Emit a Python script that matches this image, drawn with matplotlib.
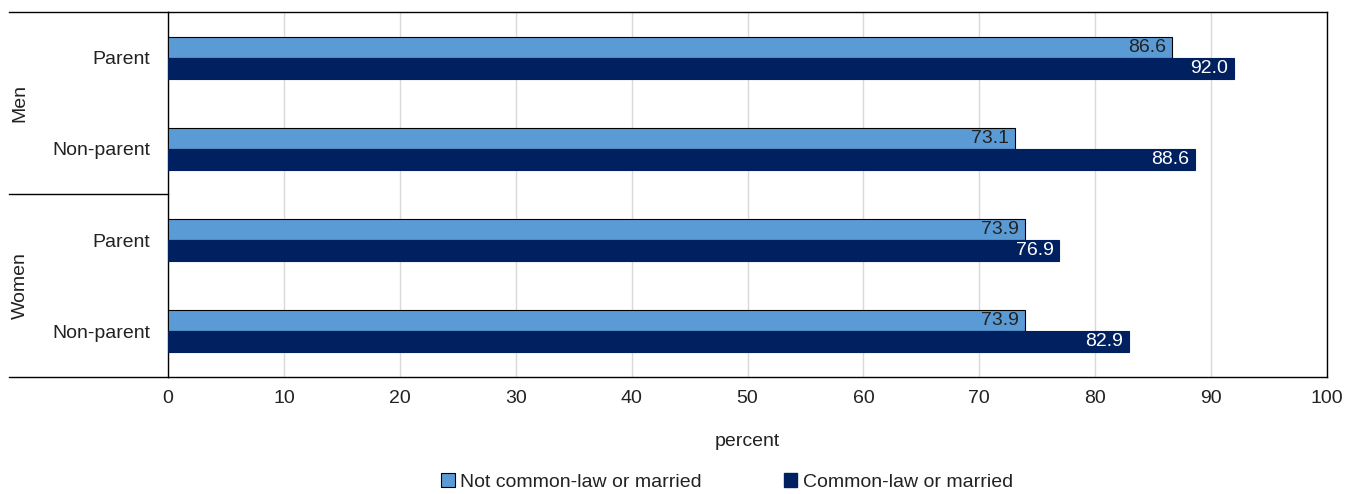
import numpy as np
import matplotlib.pyplot as plt
from matplotlib.lines import Line2D
from matplotlib.patches import Patch

plt.rcParams['font.family'] = ['Liberation Sans', 'DejaVu Sans']

# data, top to bottom
groups = ["Men", "Women"]
categories = ["Parent", "Non-parent", "Parent", "Non-parent"]
not_married = [86.6, 73.1, 73.9, 73.9]
married = [92.0, 88.6, 76.9, 82.9]
xticks = [0, 10, 20, 30, 40, 50, 60, 70, 80, 90, 100]

light = '#5B9BD5'
dark = '#002060'
txt = '#222222'
fs = 14

fig = plt.figure(figsize=(13.54, 4.94), dpi=100)
ax = fig.add_axes([168/1354, 1 - 377/494, (1327 - 168)/1354, 365/494])

y = np.arange(len(categories))
h = 0.23
ax.barh(y - h/2, not_married, height=h, color=light, edgecolor='black', linewidth=0.8, zorder=3)
ax.barh(y + h/2, married, height=h, color=dark, edgecolor=dark, linewidth=0.8, zorder=3)

for i in range(len(categories)):
    ax.text(not_married[i] - 0.5, y[i] - h/2, f"{not_married[i]:.1f}", ha='right', va='center',
            fontsize=fs, color=txt, zorder=4)
    ax.text(married[i] - 0.5, y[i] + h/2, f"{married[i]:.1f}", ha='right', va='center',
            fontsize=fs, color='white', zorder=4)

ax.set_ylim(len(categories) - 0.5, -0.5)
ax.set_xlim(0, 100)
ax.set_xticks(xticks)
ax.set_xticklabels([str(t) for t in xticks], fontsize=fs, color=txt)
ax.set_yticks(y)
ax.set_yticklabels(categories, fontsize=fs, color=txt)
ax.tick_params(axis='x', length=0, pad=9)
ax.tick_params(axis='y', length=0, pad=13)
ax.xaxis.grid(True, color='#d9d9d9', linewidth=1, zorder=0)
for s in ax.spines.values():
    s.set_color('black')
    s.set_linewidth(1)

ax.set_xlabel("percent", fontsize=fs, color=txt, labelpad=19)

# group labels and separators on the left
fy = lambda py: 1 - py/494
fig.add_artist(Line2D([9/1354, 168/1354], [fy(12), fy(12)], color='black', lw=1))
fig.add_artist(Line2D([9/1354, 168/1354], [fy(194), fy(194)], color='black', lw=1))
fig.add_artist(Line2D([9/1354, 168/1354], [fy(377), fy(377)], color='black', lw=1))
fig.text(20/1354, fy(103), groups[0], rotation=90, ha='center', va='center', fontsize=fs, color=txt)
fig.text(20/1354, fy(286), groups[1], rotation=90, ha='center', va='center', fontsize=fs, color=txt)

handles = [Patch(facecolor=light, edgecolor='black', linewidth=0.8, label="Not common-law or married"),
           Patch(facecolor=dark, edgecolor=dark, label="Common-law or married")]
fig.legend(handles=handles, loc='center', bbox_to_anchor=(0.537, fy(482)), ncol=2, frameon=False,
           fontsize=fs, handlelength=0.7, handleheight=0.7, handletextpad=0.3, columnspacing=4.2,
           labelcolor=txt)

fig.savefig('out.png', dpi=100)
